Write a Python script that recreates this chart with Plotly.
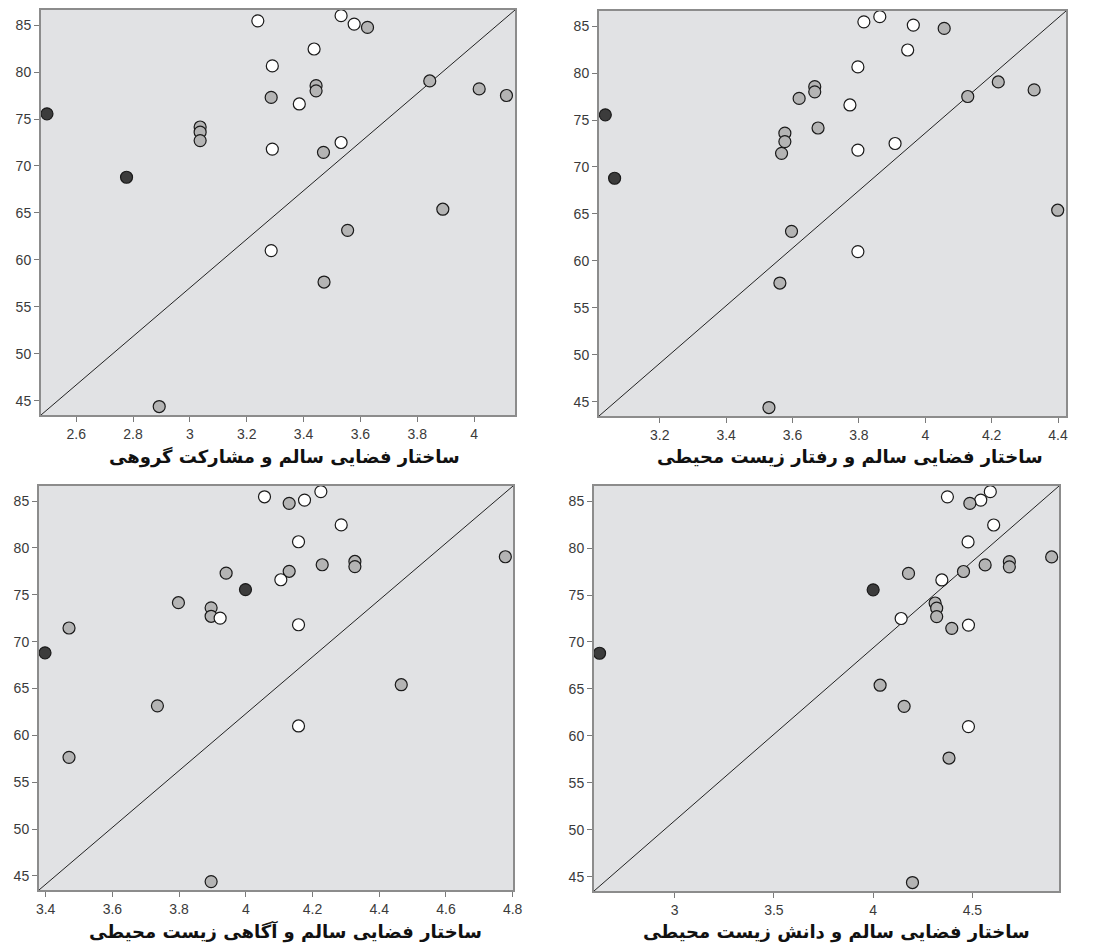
import plotly.graph_objects as go

# Shared y variable (same cases in every panel)
y_vals = [85.45, 86.0, 85.1, 84.75, 82.45, 80.65, 79.05, 78.55, 78.0, 78.2, 77.5, 77.3,
          76.6, 75.55, 74.15, 73.6, 72.7, 72.5, 71.8, 71.45, 68.8, 65.4, 63.15, 61.0, 57.65, 44.4]
# case group: 0 = white, 1 = gray, 2 = dark
groups = [0, 0, 0, 1, 0, 0, 1, 1, 1, 1, 1, 1,
          0, 2, 1, 1, 1, 0, 0, 1, 2, 1, 1, 0, 1, 1]

x_group_participation = [3.239, 3.532, 3.578, 3.625, 3.437, 3.290, 3.844, 3.444, 3.444, 4.018, 4.114, 3.286,
                         3.385, 2.497, 3.036, 3.036, 3.036, 3.532, 3.290, 3.470, 2.777, 3.890, 3.555, 3.286, 3.472, 2.892]
x_env_behavior = [3.815, 3.863, 3.964, 4.057, 3.947, 3.797, 4.220, 3.667, 3.667, 4.328, 4.128, 3.620,
                  3.773, 3.036, 3.677, 3.577, 3.577, 3.909, 3.797, 3.567, 3.064, 4.399, 3.597, 3.797, 3.562, 3.529]
x_env_awareness = [4.056, 4.225, 4.176, 4.130, 4.286, 4.158, 4.778, 4.327, 4.327, 4.229, 4.130, 3.941,
                   4.105, 3.999, 3.798, 3.896, 3.896, 3.923, 4.158, 3.470, 3.398, 4.466, 3.735, 4.158, 3.470, 3.896]
x_env_knowledge = [4.374, 4.590, 4.542, 4.487, 4.607, 4.478, 4.899, 4.686, 4.686, 4.564, 4.455, 4.178,
                   4.346, 4.000, 4.312, 4.320, 4.320, 4.141, 4.480, 4.396, 2.622, 4.035, 4.156, 4.480, 4.382, 4.198]

titles = [
    "ساختار فضایی سالم و مشارکت گروهی",
    "ساختار فضایی سالم و رفتار زیست محیطی",
    "ساختار فضایی سالم و آگاهی زیست محیطی",
    "ساختار فضایی سالم و دانش زیست محیطی",
]
x_ranges = [[2.476, 4.144], [3.017, 4.424], [3.38, 4.801], [2.594, 4.936]]
x_ticks = [[2.6, 2.8, 3.0, 3.2, 3.4, 3.6, 3.8, 4.0],
           [3.2, 3.4, 3.6, 3.8, 4.0, 4.2, 4.4],
           [3.4, 3.6, 3.8, 4.0, 4.2, 4.4, 4.6, 4.8],
           [3.0, 3.5, 4.0, 4.5]]
y_range = [43.5, 86.6]
y_ticks = [45, 50, 55, 60, 65, 70, 75, 80, 85]

group_colors = ["#ffffff", "#b4b4b4", "#3c3c3c"]

# page body has an 8px margin; figure sized to fit the window exactly
OFF = 8
W, H = 1099 - 2 * OFF, 952 - 2 * OFF
# plot-area pixel boxes in window coords: (left, right, top, bottom)
boxes = [(41, 515, 10, 415), (599, 1066, 11, 416), (39, 513, 486, 890), (594, 1059, 486, 891)]
# title centres in window coords (x, y); bottom-row titles sit on the figure's bottom edge
title_pos = [(284, 457), (850, 457), (285, None), (836, None)]

fig = go.Figure()
xs_all = [x_group_participation, x_env_behavior, x_env_awareness, x_env_knowledge]

for i, xs in enumerate(xs_all):
    xa = "x" if i == 0 else f"x{i+1}"
    ya = "y" if i == 0 else f"y{i+1}"
    fig.add_trace(go.Scatter(
        x=xs, y=y_vals, mode="markers", xaxis=xa, yaxis=ya, showlegend=False,
        marker=dict(symbol="circle", size=12, color=[group_colors[g] for g in groups],
                    line=dict(color="#1a1a1a", width=1.2)),
        cliponaxis=False,
    ))
    l, r, t, b = [v - OFF for v in boxes[i]]
    dom_x = [l / W, r / W]
    dom_y = [1 - b / H, 1 - t / H]
    axis_common = dict(showgrid=False, zeroline=False, showline=True, linecolor="#8c8c8c",
                       linewidth=2, mirror=True, ticks="outside", ticklen=5, tickwidth=1,
                       tickcolor="#7a7a7a", automargin=False,
                       tickfont=dict(family="Liberation Sans, Arial", size=14, color="#3a3a3a"))
    fig.layout[("xaxis" if i == 0 else f"xaxis{i+1}")] = dict(
        domain=dom_x, range=x_ranges[i], tickvals=x_ticks[i], anchor=ya, **axis_common)
    fig.layout[("yaxis" if i == 0 else f"yaxis{i+1}")] = dict(
        domain=dom_y, range=y_range, tickvals=y_ticks, anchor=xa, **axis_common)
    # diagonal reference line across the plot box
    fig.add_shape(type="line", xref=f"{xa} domain", yref=f"{ya} domain",
                  x0=0, y0=0, x1=1, y1=1, line=dict(color="#222222", width=1), layer="below")
    tx, ty = title_pos[i]
    if ty is None:
        ypos, yanc = 0, "bottom"
    else:
        ypos, yanc = 1 - (ty - OFF) / H, "middle"
    fig.add_annotation(text=titles[i], xref="paper", yref="paper",
                       x=(tx - OFF) / W, y=ypos, xanchor="center", yanchor=yanc,
                       showarrow=False, borderpad=0,
                       font=dict(family="DejaVu Sans", size=18, color="#111111", weight="bold"))

fig.update_layout(
    width=W, height=H, margin=dict(l=0, r=0, t=0, b=0),
    paper_bgcolor="#ffffff", plot_bgcolor="#e1e2e4",
)

fig.write_html("out.html")
